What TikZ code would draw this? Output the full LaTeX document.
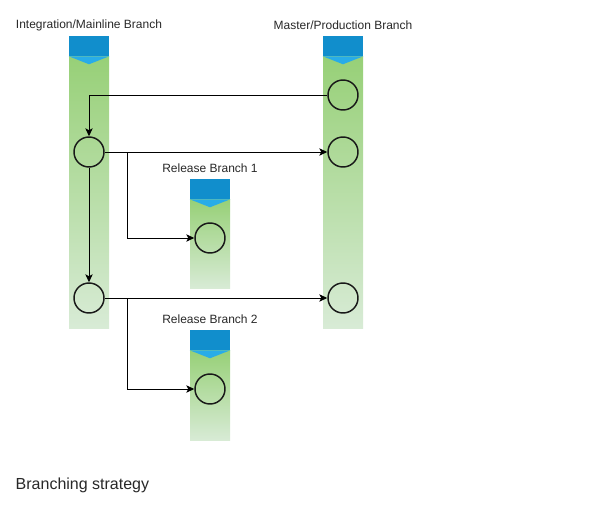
\documentclass[tikz,border=0pt]{standalone}
\usepackage{fontspec}
\setmainfont{Liberation Sans}
\usetikzlibrary{shapes.geometric, arrows, arrows.meta}
\definecolor{barTop}{RGB}{151,208,119}
\definecolor{barBottom}{RGB}{216,235,214}
\definecolor{headDark}{RGB}{17,142,204}
\definecolor{headLight}{RGB}{40,172,232}
\definecolor{textGray}{RGB}{40,40,40}
\tikzstyle{bar} = [rectangle, 
minimum width=30pt, 
inner sep=0pt, 
anchor=north, 
top color=barTop, 
bottom color=barBottom]
\tikzstyle{head} = [rectangle, 
minimum width=30pt, 
minimum height=15pt, 
inner sep=0pt, 
fill=headDark]
\tikzstyle{commit} = [circle, 
minimum size=22.5pt, 
inner sep=0pt, 
draw=black!90, 
line width=1.1pt]
\tikzstyle{branchname} = [text=textGray, font=\fontsize{9}{11}\selectfont]
\tikzstyle{arrow} = [line width=0.75pt,-{Stealth[length=6pt,width=5.5pt,inset=1.5pt]}]

\begin{document}
\begin{tikzpicture}[x=0.75pt, y=-0.75pt]
\useasboundingbox (0,0) rectangle (590,512);

% branch headers
\node (mainHead) [head] at (89,46) {};
\node (prodHead) [head] at (343,46) {};
\node (relAHead) [head] at (210,189) {};
\node (relBHead) [head] at (210,340) {};

% branch bars
\node (mainBar) [bar, minimum height=204pt] at (mainHead.south) {};
\node (prodBar) [bar, minimum height=204pt] at (prodHead.south) {};
\node (relABar) [bar, minimum height=66.75pt] at (relAHead.south) {};
\node (relBBar) [bar, minimum height=67.5pt] at (relBHead.south) {};
\foreach \h in {mainHead, prodHead, relAHead, relBHead}
  \fill [headLight] (\h.south west) -- (\h.south east) -- ([yshift=-6pt]\h.south) -- cycle;

\node (mainName) [branchname] at (89,25) {Integration/Mainline Branch};
\node (prodName) [branchname] at (343,25) {Master/Production Branch};
\node (relAName) [branchname] at (210,168) {Release Branch 1};
\node (relBName) [branchname] at (210,319) {Release Branch 2};

% commits
\node (mainA) [commit] at (89,152) {};
\node (mainB) [commit] at (89,298) {};
\node (prodA) [commit] at (343,95) {};
\node (prodB) [commit] at (343,152) {};
\node (prodC) [commit] at (343,298) {};
\node (relA) [commit] at (210,238) {};
\node (relB) [commit] at (210,389) {};

\coordinate (forkA) at (127,152);
\coordinate (forkB) at (127,298);

\draw [arrow] (prodA.west) -| (mainA.north);
\draw [arrow] (mainA.east) -- (prodB.west);
\draw [arrow] (forkA) |- (relA.west);
\draw [arrow] (mainA.south) -- (mainB.north);
\draw [arrow] (mainB.east) -- (prodC.west);
\draw [arrow] (forkB) |- (relB.west);

\node (caption) [anchor=west, text=textGray, font=\fontsize{12}{14}\selectfont] at (11,485) {Branching strategy};

\end{tikzpicture}
\end{document}
